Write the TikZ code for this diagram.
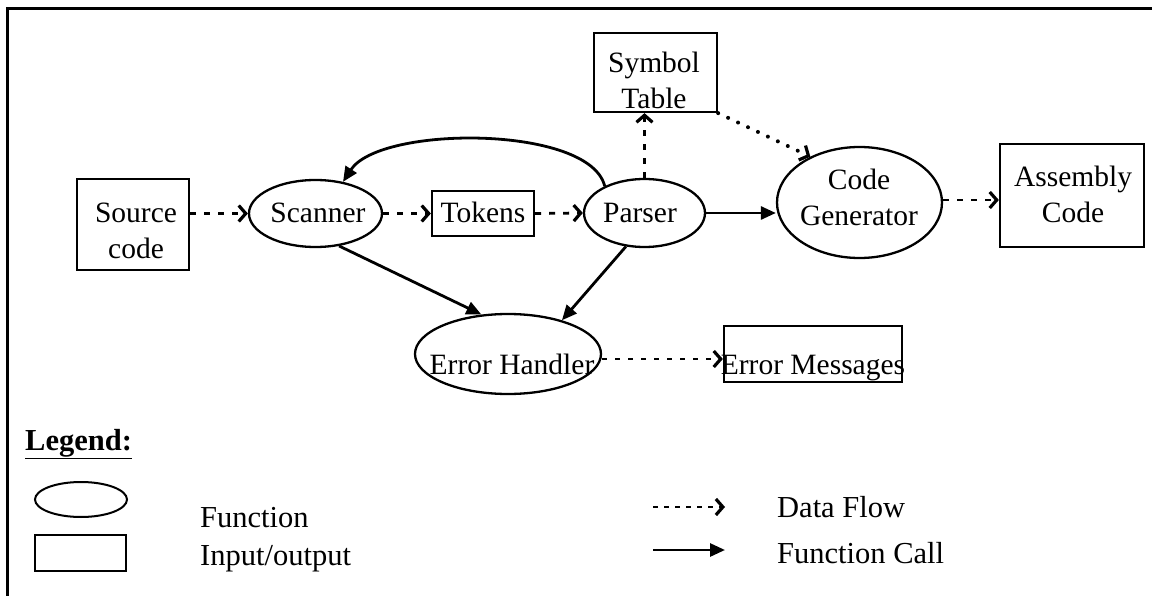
\documentclass[tikz,border=0pt]{standalone}
\usepackage{fontspec}
\setmainfont{Liberation Serif}
\usetikzlibrary{shapes.geometric,arrows.meta}

\begin{document}
\begin{tikzpicture}[x=1pt,y=-1pt,
  font=\fontsize{29.5}{36}\selectfont,
  func/.style={ellipse, draw, line width=2.3pt, inner sep=0pt},
  io/.style={rectangle, draw, line width=2.3pt, inner sep=0pt},
  txt/.style={inner sep=0pt, align=center},
  legendtxt/.style={inner sep=0pt, anchor=base west, font=\fontsize{30.5}{36}\selectfont},
  flow/.style={line width=2.8pt, dash pattern=on 6pt off 8pt,
    -{Straight Barb[length=7pt,width=16pt,line width=3.2pt]}},
  dotflow/.style={flow, dash pattern=on 0pt off 11pt, line cap=round, line width=4pt},
  call/.style={line width=2.8pt, -{Triangle[length=15pt,width=13pt]}}]

\useasboundingbox (0,0) rectangle (1152,596);

% frame (top and left edges)
\coordinate (tl) at (7,9);
\coordinate (tr) at (1152,9);
\coordinate (bl) at (7,596);
\draw[line width=3pt] (tr) -- (tl) -- (bl);

% shapes
\node[io, minimum width=112pt, minimum height=91pt] (src) at (133,224.5) {};
\node[txt] (srct) at (136,231) {Source\\code};

\node[func, minimum width=133pt, minimum height=67pt] (scanner) at (315.5,213.5) {};
\node[txt, anchor=base] (scannert) at (318,223) {Scanner};

\node[io, minimum width=102pt, minimum height=45pt] (tokens) at (483,213.5) {};
\node[txt, anchor=base] (tokenst) at (483,223) {Tokens};

\node[func, minimum width=121pt, minimum height=68pt] (parser) at (644.5,213) {};
\node[txt, anchor=base] (parsert) at (640,223) {Parser};

\node[io, minimum width=123pt, minimum height=79pt] (symtab) at (655.5,72.5) {};
\node[txt] (symtabt) at (654,80) {Symbol\\Table};

\node[func, minimum width=165pt, minimum height=111pt] (codegen) at (859.5,202.5) {};
\node[txt] (codegent) at (859,197) {Code\\Generator};

\node[io, minimum width=144pt, minimum height=103pt] (asm) at (1072,195.5) {};
\node[txt] (asmt) at (1073,194) {Assembly\\Code};

\node[func, minimum width=186pt, minimum height=80pt] (errh) at (508,354) {};
\node[txt, anchor=base] (errht) at (512,374) {Error Handler};

\node[io, minimum width=178pt, minimum height=56pt] (errmsg) at (813,354) {};
\node[txt, anchor=base] (errmsgt) at (813,374) {Error Messages};

% data flow
\draw[flow] (scanner.west -| src.east) -- (scanner.west);
\draw[flow] (scanner.east) -- (tokens.west);
\draw[flow] (tokens.east) -- (parser.west);
\draw[flow] ([yshift=2.5pt]codegen.east) -- ([yshift=2.5pt]codegen.east -| asm.west);
\draw[flow] (parser.north) -- (parser.north |- symtab.south);
\draw[dotflow] (symtab.south east) -- (codegen.137);
\draw[flow, dash pattern=on 5pt off 8pt] ([yshift=-5pt]errh.east) -- ([yshift=-5pt]errh.east -| errmsg.west);

% function calls
\draw[call] (parser.east) -- (parser.east -| codegen.west);
\draw[call] (parser.146) .. controls (590,125) and (380,125) .. (scanner.49);
\draw[call] (scanner.-54) -- (errh.124);
\draw[call] (parser.-119) -- (errh.32);

% legend
\node[txt, anchor=base west, font=\fontsize{30.5}{36}\selectfont\bfseries] (legend) at (25,450) {\underline{Legend:}};
\node[func, line width=2pt, minimum width=92pt, minimum height=35pt] (lfunc) at (81,499.5) {};
\node[io, line width=2pt, minimum width=91pt, minimum height=36pt] (lio) at (80.5,553) {};
\node[legendtxt] (lfunct) at (200,527) {Function};
\node[legendtxt] (liot) at (200,565) {Input/output};

\coordinate (df0) at (653,507);
\coordinate (df1) at (725,507);
\draw[flow, dash pattern=on 5pt off 6pt] (df0) -- (df1);
\coordinate (fc0) at (653,550);
\coordinate (fc1) at (725,550);
\draw[call] (fc0) -- (fc1);
\node[legendtxt] (ldf) at (777,517) {Data Flow};
\node[legendtxt] (lfc) at (777,563) {Function Call};
\end{tikzpicture}
\end{document}
